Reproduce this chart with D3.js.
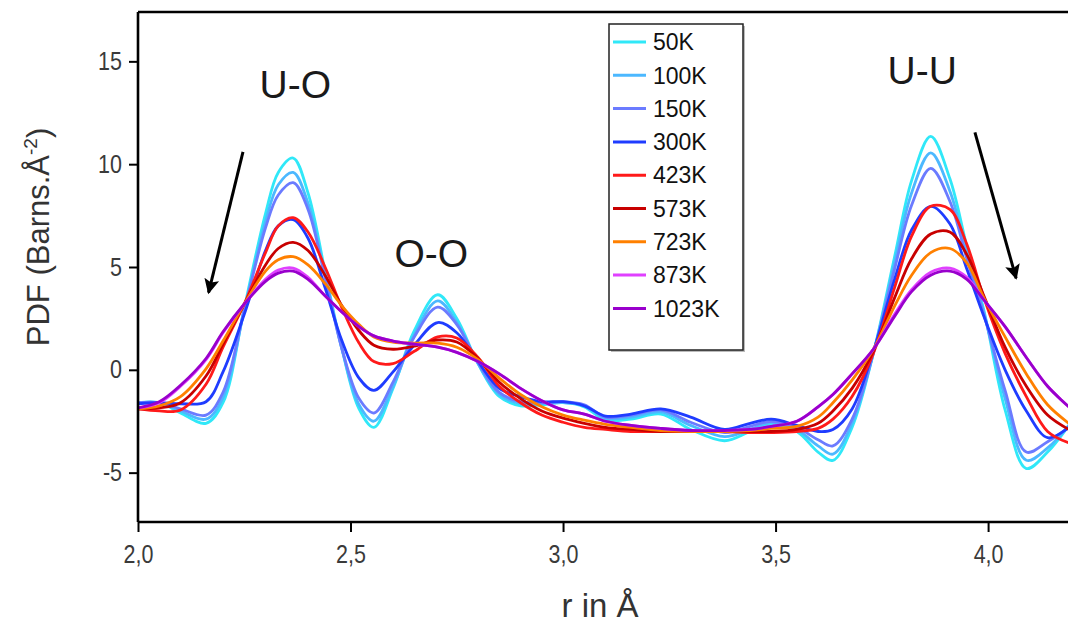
<!DOCTYPE html>
<html>
<head>
<meta charset="utf-8">
<script src="https://cdn.jsdelivr.net/npm/d3@7"></script>
<style>
    body { margin: 0; background: #fff; }
    svg { display: block; }
</style>
</head>
<body>
<div id="chart"></div>
<script>
// r grid (Å), shared by every temperature
const r = [2.00, 2.05, 2.10, 2.16, 2.20, 2.25, 2.30, 2.33, 2.365, 2.40, 2.44, 2.48, 2.52, 2.555, 2.60, 2.65,
    2.705, 2.75, 2.80, 2.85, 2.90, 2.95, 3.00, 3.05, 3.10, 3.16, 3.23, 3.30, 3.38, 3.44, 3.49, 3.55,
    3.60, 3.635, 3.68, 3.73, 3.78, 3.82, 3.865, 3.91, 3.95, 3.99, 4.04, 4.09, 4.14, 4.19];

const temps = ["50K", "100K", "150K", "300K", "423K", "573K", "723K", "873K", "1023K"];
const colors = ["#30e8f8", "#4cb8ff", "#6b7bff", "#1f3cff", "#ff1a1a", "#c80000", "#ff8000", "#e040ff", "#9900cc"];

// PDF values, one array per temperature
const pdf50 = [-1.6, -1.6, -2.1, -2.6, -1.6, 3.0, 7.6, 9.6, 10.3, 8.6, 4.8, 1.0, -1.9, -2.8, -0.9, 1.9,
    3.65, 2.5, 0.3, -1.3, -1.75, -1.7, -1.6, -1.8, -2.45, -2.4, -2.15, -2.9, -3.45, -3.0, -2.65, -3.0,
    -4.0, -4.4, -2.8, 0.8, 5.5, 9.2, 11.35, 9.3, 6.0, 2.9, -1.95, -4.8, -4.0, -2.7];
const pdf100 = [-1.6, -1.6, -2.0, -2.4, -1.35, 2.9, 7.2, 9.0, 9.6, 8.1, 4.6, 1.0, -1.7, -2.5, -0.8, 1.7,
    3.35, 2.3, 0.3, -1.2, -1.65, -1.65, -1.6, -1.75, -2.35, -2.3, -2.05, -2.7, -3.25, -2.9, -2.55, -2.9,
    -3.7, -4.1, -2.6, 0.8, 5.2, 8.6, 10.55, 8.7, 5.7, 2.8, -1.4, -4.4, -3.8, -2.7];
const pdf150 = [-1.6, -1.6, -1.9, -2.2, -1.1, 2.9, 6.9, 8.5, 9.1, 7.8, 4.5, 1.0, -1.4, -2.1, -0.6, 1.6,
    3.05, 2.2, 0.35, -1.1, -1.55, -1.6, -1.55, -1.7, -2.3, -2.2, -1.95, -2.55, -3.05, -2.75, -2.5, -2.8,
    -3.4, -3.7, -2.4, 0.8, 4.9, 8.0, 9.8, 8.2, 5.4, 2.7, -1.0, -4.0, -3.5, -2.8];
const pdf300 = [-1.65, -1.6, -1.65, -1.55, -0.1, 2.7, 5.8, 7.0, 7.3, 6.4, 4.0, 1.4, -0.4, -1.0, -0.1, 1.2,
    2.3, 1.8, 0.4, -0.9, -1.3, -1.55, -1.55, -1.75, -2.25, -2.15, -1.9, -2.3, -2.9, -2.6, -2.4, -2.7,
    -3.0, -2.9, -1.9, 0.9, 4.4, 6.8, 7.95, 7.1, 4.9, 2.6, 0.0, -2.0, -3.3, -2.8];
const pdf423 = [-1.9, -2.0, -1.95, -0.7, 1.1, 3.2, 5.7, 7.0, 7.4, 6.7, 5.0, 3.0, 1.3, 0.4, 0.3, 0.9,
    1.6, 1.55, 0.6, -0.8, -1.6, -2.2, -2.55, -2.8, -2.9, -3.0, -3.0, -3.0, -3.0, -3.05, -3.05, -3.0,
    -2.85, -2.4, -1.3, 0.8, 4.0, 6.5, 7.95, 7.8, 6.1, 3.5, 0.8, -1.3, -3.0, -3.55];
const pdf573 = [-1.9, -1.85, -1.6, -0.3, 1.25, 3.2, 5.1, 5.9, 6.2, 5.8, 4.6, 3.1, 1.9, 1.2, 1.0, 1.15,
    1.45, 1.35, 0.55, -0.6, -1.4, -2.0, -2.35, -2.6, -2.8, -2.9, -3.0, -3.0, -3.0, -3.0, -3.0, -2.9,
    -2.6, -2.0, -0.9, 0.9, 3.5, 5.4, 6.6, 6.7, 5.6, 3.6, 1.1, -0.8, -2.2, -2.9];
const pdf723 = [-1.9, -1.75, -1.3, 0.05, 1.4, 3.2, 4.8, 5.35, 5.5, 5.1, 4.2, 3.1, 2.2, 1.6, 1.35, 1.3,
    1.3, 1.1, 0.5, -0.4, -1.2, -1.8, -2.2, -2.45, -2.65, -2.8, -2.95, -3.0, -3.0, -2.95, -2.85, -2.75,
    -2.3, -1.6, -0.5, 1.0, 3.1, 4.6, 5.7, 5.9, 5.2, 3.5, 1.6, -0.2, -1.7, -2.6];
const pdf873 = [-1.85, -1.6, -0.8, 0.5, 1.8, 3.2, 4.4, 4.85, 4.95, 4.5, 3.6, 2.8, 2.1, 1.65, 1.4, 1.25,
    1.1, 0.85, 0.4, -0.2, -0.9, -1.5, -1.95, -2.15, -2.5, -2.7, -2.85, -2.95, -2.95, -2.9, -2.75, -2.5,
    -1.8, -1.2, -0.2, 1.0, 2.7, 3.9, 4.75, 4.95, 4.5, 3.4, 2.1, 0.6, -0.8, -1.8];
const pdf1023 = [-1.85, -1.55, -0.75, 0.55, 1.85, 3.2, 4.3, 4.7, 4.8, 4.4, 3.6, 2.8, 2.1, 1.65, 1.4, 1.25,
    1.1, 0.85, 0.4, -0.2, -0.9, -1.5, -1.95, -2.15, -2.5, -2.7, -2.85, -2.95, -2.95, -2.9, -2.75, -2.5,
    -1.8, -1.2, -0.2, 1.0, 2.6, 3.8, 4.6, 4.8, 4.4, 3.4, 2.1, 0.6, -0.8, -1.8];
const series = [pdf50, pdf100, pdf150, pdf300, pdf423, pdf573, pdf723, pdf873, pdf1023];

// axis ticks
const xTicks = [2.0, 2.5, 3.0, 3.5, 4.0];
const yTicks = [-5, 0, 5, 10, 15];

// peak labels and arrows, in data units
const peakLabels = ["U-O", "O-O", "U-U"];
const peakR = [2.37, 2.69, 3.845];
const peakY = [13.2, 5.0, 13.9];
const arrowFrom = [[2.247, 10.6], [3.969, 11.55]];
const arrowTo = [[2.166, 3.75], [4.066, 4.45]];

const width = 1068;
const height = 626;
const margin = { top: 12, right: 0, bottom: 104, left: 138 };

const svg = d3.select("#chart")
    .append("svg")
    .attr("width", width)
    .attr("height", height);

const x = d3.scaleLinear().domain([2.0, 4.188]).range([margin.left, width - margin.right]);
const y = d3.scaleLinear().domain([-7.4, 17.4]).range([height - margin.bottom, margin.top]);

const defs = svg.append("defs");
defs.append("clipPath")
    .attr("id", "plot-clip")
    .append("rect")
    .attr("x", margin.left)
    .attr("y", margin.top)
    .attr("width", width - margin.left - margin.right)
    .attr("height", height - margin.top - margin.bottom);

// Curves
const line = d3.line()
    .x((d, i) => x(r[i]))
    .y(d => y(d))
    .curve(d3.curveCatmullRom.alpha(0.5));

svg.append("g")
    .attr("clip-path", "url(#plot-clip)")
    .selectAll("path")
    .data(series)
    .enter()
    .append("path")
    .attr("d", line)
    .attr("fill", "none")
    .attr("stroke", (d, i) => colors[i])
    .attr("stroke-width", 2.8)
    .attr("stroke-linejoin", "round");

// Minor tick positions
const xMinor = d3.range(0, 27).map(i => 2.0 + i * 0.5 / 6).filter(v => v <= 4.188);
const yMinor = d3.range(-7.5, 17.5, 2.5).filter(v => v >= -7.4);

const labelFont = "'Liberation Sans Narrow', 'Liberation Sans', Arial, sans-serif";

// Bottom axis
const xAxisG = svg.append("g")
    .attr("transform", `translate(0, ${height - margin.bottom})`);
xAxisG.call(d3.axisBottom(x).tickValues(xMinor).tickSize(6).tickFormat(""));
xAxisG.call(d3.axisBottom(x).tickValues(xTicks).tickSize(10).tickPadding(11)
    .tickFormat(d => d3.format(".1f")(d).replace(".", ",")));
xAxisG.selectAll("text")
    .attr("font-family", labelFont)
    .attr("font-size", 25)
    .attr("fill", "#3a3a3a")
    .attr("transform", "scale(0.86,1)")
    .attr("dy", "0.8em");

// Left axis (plain hyphen for negatives, as in the original)
const yAxisG = svg.append("g")
    .attr("transform", `translate(${margin.left}, 0)`);
yAxisG.call(d3.axisLeft(y).tickValues(yMinor).tickSize(6).tickFormat(""));
yAxisG.call(d3.axisLeft(y).tickValues(yTicks).tickSize(9).tickPadding(0).tickFormat(d => String(d)));
yAxisG.selectAll("text")
    .attr("font-family", labelFont)
    .attr("font-size", 25)
    .attr("fill", "#3a3a3a")
    .attr("x", -16 / 0.86)
    .attr("transform", "scale(0.86,1)");

svg.selectAll(".domain").remove();
svg.selectAll(".tick line").attr("stroke", "#000").attr("stroke-width", 2);

// Frame: left, bottom and top lines
svg.append("line")
    .attr("x1", margin.left).attr("x2", margin.left)
    .attr("y1", margin.top).attr("y2", height - margin.bottom)
    .attr("stroke", "#000").attr("stroke-width", 2.6);
svg.append("line")
    .attr("x1", margin.left).attr("x2", width)
    .attr("y1", height - margin.bottom).attr("y2", height - margin.bottom)
    .attr("stroke", "#000").attr("stroke-width", 2.6);
svg.append("line")
    .attr("x1", margin.left).attr("x2", width)
    .attr("y1", margin.top).attr("y2", margin.top)
    .attr("stroke", "#000").attr("stroke-width", 2.6);

// Axis titles
const yTitle = svg.append("text")
    .attr("transform", "translate(49, 237) rotate(-90)")
    .attr("text-anchor", "middle")
    .attr("font-family", "'Liberation Sans', Arial, sans-serif")
    .attr("font-size", 31)
    .attr("fill", "#333");
yTitle.append("tspan").text("PDF (Barns.Å");
yTitle.append("tspan").attr("font-size", 19).attr("dy", -12).text("-2");
yTitle.append("tspan").attr("dy", 12).text(")");

svg.append("text")
    .attr("x", 600)
    .attr("y", 617)
    .attr("text-anchor", "middle")
    .attr("font-family", labelFont)
    .attr("font-size", 33)
    .attr("fill", "#333")
    .text("r in Å");

// Peak labels
svg.selectAll(".peak")
    .data(peakLabels)
    .enter()
    .append("text")
    .attr("class", "peak")
    .attr("x", (d, i) => x(peakR[i]))
    .attr("y", (d, i) => y(peakY[i]))
    .attr("text-anchor", "middle")
    .attr("font-family", "'Liberation Sans', Arial, sans-serif")
    .attr("font-size", 39)
    .attr("fill", "#1a1a1a")
    .text(d => d);

// Arrows
defs.append("marker")
    .attr("id", "arrowhead")
    .attr("viewBox", "0 0 10 10")
    .attr("refX", 9)
    .attr("refY", 5)
    .attr("markerWidth", 8)
    .attr("markerHeight", 5)
    .attr("markerUnits", "strokeWidth")
    .attr("orient", "auto")
    .append("path")
    .attr("d", "M0,0 L10,5 L0,10 L2,5 Z")
    .attr("fill", "#000");

svg.selectAll(".arrow")
    .data(arrowFrom)
    .enter()
    .append("line")
    .attr("class", "arrow")
    .attr("x1", d => x(d[0]))
    .attr("y1", d => y(d[1]))
    .attr("x2", (d, i) => x(arrowTo[i][0]))
    .attr("y2", (d, i) => y(arrowTo[i][1]))
    .attr("stroke", "#000")
    .attr("stroke-width", 3)
    .attr("marker-end", "url(#arrowhead)");

// Legend
const legend = svg.append("g").attr("transform", "translate(609, 24)");
legend.append("rect")
    .attr("x", 2).attr("y", 2)
    .attr("width", 134).attr("height", 326)
    .attr("fill", "#bbb");
legend.append("rect")
    .attr("width", 134).attr("height", 326)
    .attr("fill", "#fff")
    .attr("stroke", "#222")
    .attr("stroke-width", 1.5);

const rows = legend.selectAll(".row")
    .data(temps)
    .enter()
    .append("g")
    .attr("class", "row")
    .attr("transform", (d, i) => `translate(0, ${18 + i * 33.3})`);

rows.append("line")
    .attr("x1", 4).attr("x2", 37)
    .attr("stroke", (d, i) => colors[i])
    .attr("stroke-width", 3);

rows.append("text")
    .attr("x", 44)
    .attr("dy", "0.36em")
    .attr("font-family", "'Liberation Sans', Arial, sans-serif")
    .attr("font-size", 23)
    .attr("fill", "#111")
    .text(d => d);
</script>
</body>
</html>
